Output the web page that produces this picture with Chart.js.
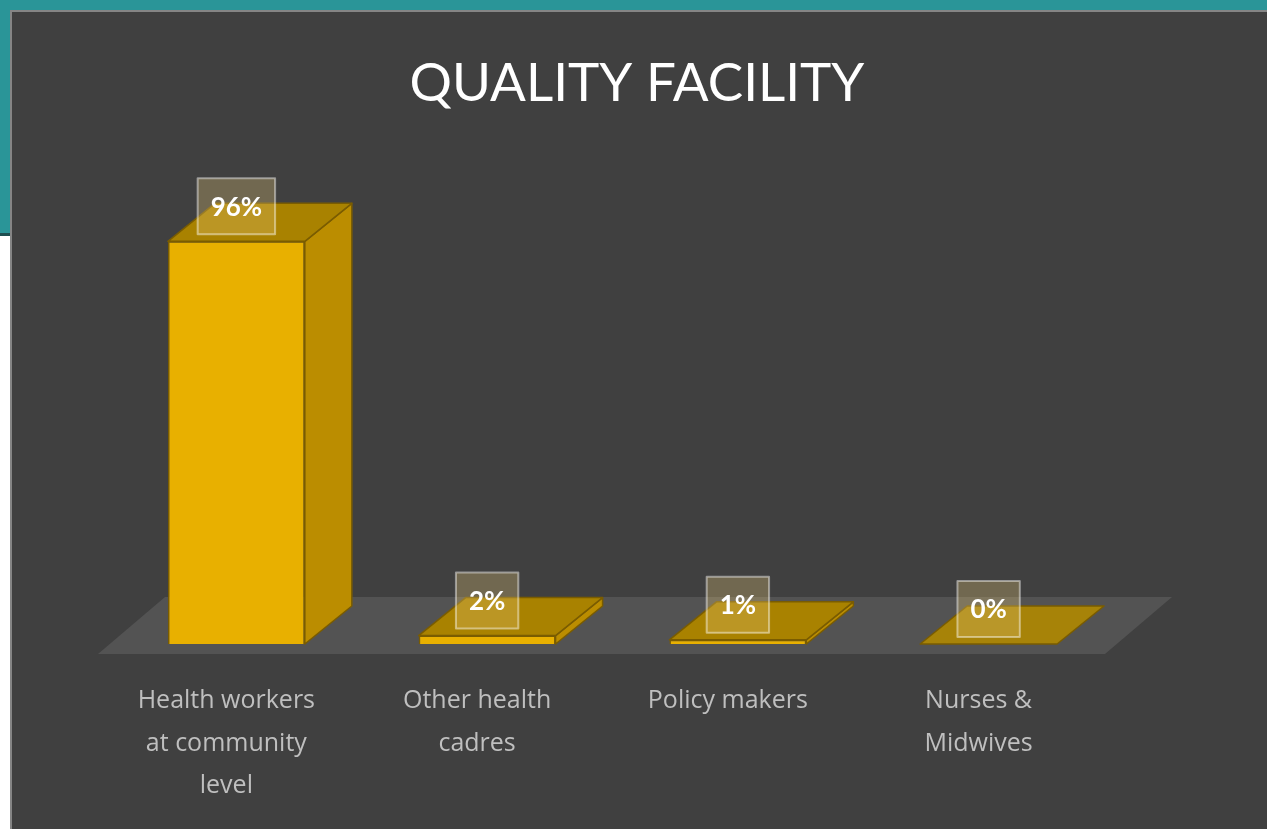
<!DOCTYPE html>
<html>
<head>
<meta charset="utf-8">
<script src="https://cdn.jsdelivr.net/npm/chart.js@4.4.1/dist/chart.umd.min.js"></script>
<style>
  body { margin: 0; background: #ffffff; }
  #band { position: absolute; left: 0; top: 0; width: 1267px; height: 233px; background: #2a9598; border-bottom: 3px solid #1e4e50; }
  #panel { position: absolute; left: 10px; top: 10px; width: 1257px; height: 819px; background: #404040;
           border-top: 2px solid #858585; border-left: 2px solid #858585; box-sizing: border-box; }
  canvas { display: block; }
</style>
</head>
<body>
<div id="band"></div>
<div id="panel"><canvas id="quality" width="1255" height="817"></canvas></div>
<script>
// data
var categories = [
  ["Health workers", "at community", "level"],
  ["Other health", "cadres"],
  ["Policy makers"],
  ["Nurses &", "Midwives"]
];
var shares = [96, 2, 1, 0];
var yMax = 110;

// 3d look: depth of a bar and of the floor (pixels)
var depth = { dx: 47, dy: -38 };
var floorDepth = { dx: 67, dy: -57 };

var box3d = {
  id: 'box3d',
  beforeDatasetsDraw: function (chart) {
    var a = chart.chartArea, c = chart.ctx;
    var y0 = a.bottom + 10, x0 = a.left - 13, x1 = a.right - 9;
    c.save();
    c.fillStyle = '#535353';
    c.beginPath();
    c.moveTo(x0, y0);
    c.lineTo(x1, y0);
    c.lineTo(x1 + floorDepth.dx, y0 + floorDepth.dy);
    c.lineTo(x0 + floorDepth.dx, y0 + floorDepth.dy);
    c.closePath();
    c.fill();
    c.restore();
  },
  afterDatasetsDraw: function (chart) {
    var c = chart.ctx;
    var meta = chart.getDatasetMeta(0);
    c.save();
    c.lineJoin = 'round';
    meta.data.forEach(function (bar, i) {
      var l = bar.x - bar.width / 2, r = bar.x + bar.width / 2;
      var t = bar.y, b = bar.base;
      // side
      if (b - t > 0.5) {
        c.fillStyle = '#bb8d00';
        c.strokeStyle = '#7a5c00';
        c.lineWidth = 1.5;
        c.beginPath();
        c.moveTo(r, t);
        c.lineTo(r + depth.dx, t + depth.dy);
        c.lineTo(r + depth.dx, b + depth.dy);
        c.lineTo(r, b);
        c.closePath();
        c.fill();
        c.stroke();
      }
      // top
      c.fillStyle = shares[i] === 0 ? 'rgba(176,136,0,0.9)' : '#a98200';
      c.strokeStyle = '#7a5c00';
      c.lineWidth = 1.5;
      c.beginPath();
      c.moveTo(l, t);
      c.lineTo(r, t);
      c.lineTo(r + depth.dx, t + depth.dy);
      c.lineTo(l + depth.dx, t + depth.dy);
      c.closePath();
      c.fill();
      c.stroke();
    });
    // value boxes
    c.font = 'bold 26px Lato';
    c.textAlign = 'center';
    c.textBaseline = 'middle';
    meta.data.forEach(function (bar, i) {
      var txt = shares[i] + '%';
      var w = c.measureText(txt).width + 26;
      var h = 56;
      var cx = bar.x, cy = bar.y + depth.dy + 3;
      c.fillStyle = 'rgba(230,200,120,0.3)';
      c.fillRect(cx - w / 2, cy - h / 2, w, h);
      c.strokeStyle = 'rgba(255,255,255,0.45)';
      c.lineWidth = 2;
      c.strokeRect(cx - w / 2, cy - h / 2, w, h);
      c.fillStyle = '#ffffff';
      c.fillText(txt, cx, cy + 1);
    });
    c.restore();
  }
};

new Chart(document.getElementById('quality'), {
  type: 'bar',
  data: {
    labels: categories,
    datasets: [{
      data: shares,
      backgroundColor: '#e8b000',
      borderColor: '#7a5c00',
      borderWidth: 1.5,
      categoryPercentage: 1,
      barPercentage: 0.546
    }]
  },
  options: {
    responsive: false,
    animation: false,
    layout: { padding: { left: 99, right: 104, top: 0, bottom: 0 } },
    plugins: {
      legend: { display: false },
      tooltip: { enabled: false },
      title: {
        display: true,
        text: 'QUALITY FACILITY',
        color: '#ffffff',
        font: { family: 'Lato', size: 53, weight: 'normal', lineHeight: 1.2 },
        padding: { top: 40, bottom: 67 }
      }
    },
    scales: {
      x: { display: false },
      // label axis, slightly left of the bar fronts like in the picture
      xl: {
        type: 'linear',
        position: 'bottom',
        offset: false,
        min: -0.46,
        max: categories.length - 0.46,
        afterBuildTicks: function (s) {
          s.ticks = categories.map(function (c, i) { return { value: i }; });
        },
        grid: { display: false, drawTicks: false, offset: false },
        border: { display: false },
        ticks: {
          autoSkip: false,
          maxRotation: 0,
          color: '#bfbfbf',
          font: { family: 'Open Sans', size: 25, lineHeight: 1.7 },
          padding: 36,
          callback: function (v) { return categories[v]; }
        },
        afterFit: function (s) { s.height = 185; }
      },
      y: {
        position: 'right',
        min: 0,
        max: yMax,
        ticks: { display: false },
        grid: { display: false },
        border: { display: false },
        afterFit: function (s) { s.width = 49; }
      }
    }
  },
  plugins: [box3d]
});
</script>
</body>
</html>
